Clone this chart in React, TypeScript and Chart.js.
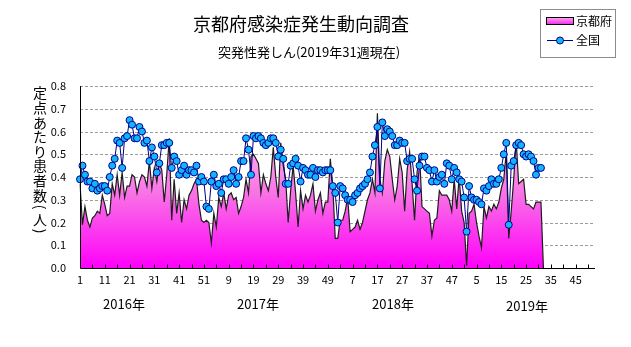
import React, { useEffect, useRef } from "react";
import { Chart, registerables } from "chart.js";

Chart.register(...registerables);

// ---- categories ----
const yearWeeks = [52, 52, 52, 52];
const yearLabels = ["2016年", "2017年", "2018年", "2019年"];
const yTickValues = [0.1, 0.2, 0.3, 0.4, 0.5, 0.6, 0.7, 0.8];

// ---- 京都府 (Kyoto) ----
const kyoto2016 = [
  0.37, 0.19, 0.27, 0.21, 0.18, 0.22, 0.23, 0.25, 0.24, 0.32,
  0.28, 0.23, 0.24, 0.37, 0.32, 0.41, 0.32, 0.42, 0.31, 0.36,
  0.36, 0.41, 0.40, 0.33, 0.38, 0.41, 0.40, 0.36, 0.47, 0.35,
  0.44, 0.38, 0.46, 0.43, 0.29, 0.41, 0.57, 0.21, 0.39, 0.24,
  0.33, 0.20, 0.30, 0.26, 0.32, 0.34, 0.37, 0.39, 0.28, 0.21,
  0.20, 0.21,
];
const kyoto2017 = [
  0.20, 0.11, 0.24, 0.18, 0.31, 0.27, 0.33, 0.26, 0.32, 0.33,
  0.30, 0.31, 0.24, 0.27, 0.31, 0.39, 0.33, 0.49, 0.50, 0.48,
  0.46, 0.33, 0.41, 0.37, 0.34, 0.40, 0.53, 0.40, 0.31, 0.55,
  0.45, 0.39, 0.20, 0.34, 0.45, 0.33, 0.18, 0.34, 0.26, 0.32,
  0.29, 0.32, 0.37, 0.25, 0.30, 0.33, 0.24, 0.29, 0.29, 0.48,
  0.36, 0.13,
];
const kyoto2018 = [
  0.13, 0.21, 0.21, 0.25, 0.31, 0.16, 0.17, 0.18, 0.21, 0.17,
  0.20, 0.25, 0.30, 0.33, 0.39, 0.33, 0.68, 0.39, 0.33, 0.47,
  0.52, 0.49, 0.39, 0.30, 0.36, 0.48, 0.42, 0.25, 0.43, 0.51,
  0.37, 0.21, 0.42, 0.50, 0.27, 0.26, 0.25, 0.24, 0.14, 0.21,
  0.22, 0.34, 0.32, 0.32, 0.32, 0.30, 0.25, 0.39, 0.26, 0.40,
  0.25, 0.20,
];
const kyoto2019 = [
  0.01, 0.24, 0.25, 0.28, 0.20, 0.14, 0.09, 0.27, 0.22, 0.27,
  0.25, 0.28, 0.26, 0.29, 0.35, 0.39, 0.51, 0.13, 0.25, 0.39,
  0.56, 0.37, 0.38, 0.39, 0.28, 0.28, 0.27, 0.26, 0.29, 0.29,
  0.29, 0,
];

// ---- 全国 (national) ----
const national2016 = [
  0.39, 0.45, 0.41, 0.38, 0.38, 0.35, 0.37, 0.34, 0.35, 0.36,
  0.36, 0.34, 0.40, 0.45, 0.48, 0.56, 0.55, 0.44, 0.57, 0.58,
  0.65, 0.63, 0.57, 0.57, 0.62, 0.60, 0.55, 0.56, 0.47, 0.53,
  0.49, 0.42, 0.46, 0.54, 0.54, 0.55, 0.55, 0.44, 0.49, 0.47,
  0.41, 0.43, 0.45, 0.41, 0.43, 0.43, 0.42, 0.45, 0.38, 0.40,
  0.38, 0.27,
];
const national2017 = [
  0.26, 0.38, 0.41, 0.36, 0.37, 0.33, 0.39, 0.39, 0.37, 0.40,
  0.43, 0.37, 0.40, 0.47, 0.47, 0.57, 0.52, 0.41, 0.58, 0.57,
  0.58, 0.57, 0.55, 0.54, 0.55, 0.57, 0.57, 0.55, 0.49, 0.52,
  0.48, 0.37, 0.37, 0.45, 0.46, 0.48, 0.45, 0.38, 0.44, 0.43,
  0.41, 0.41, 0.44, 0.40, 0.43, 0.43, 0.42, 0.43, 0.43, 0.43,
  0.36, 0.33,
];
const national2018 = [
  0.20, 0.36, 0.35, 0.32, 0.30, 0.30, 0.29, 0.32, 0.33, 0.35,
  0.36, 0.37, 0.39, 0.42, 0.49, 0.54, 0.62, 0.35, 0.64, 0.58,
  0.61, 0.60, 0.58, 0.54, 0.54, 0.56, 0.55, 0.55, 0.47, 0.48,
  0.48, 0.39, 0.34, 0.45, 0.49, 0.49, 0.44, 0.43, 0.38, 0.43,
  0.38, 0.40, 0.41, 0.37, 0.46, 0.45, 0.39, 0.44, 0.42, 0.39,
  0.38, 0.31,
];
const national2019 = [
  0.16, 0.36, 0.31, 0.30, 0.30, 0.29, 0.28, 0.35, 0.34, 0.36,
  0.39, 0.37, 0.37, 0.39, 0.44, 0.50, 0.55, 0.19, 0.45, 0.47,
  0.54, 0.55, 0.54, 0.50, 0.49, 0.50, 0.49, 0.47, 0.41, 0.44,
  0.44,
];

const TITLE = "京都府感染症発生動向調査";
const SUBTITLE = "突発性発しん(2019年31週現在)";
const Y_TITLE = "定点あたり患者数(人)";
const LEGEND_KYOTO = "京都府";
const LEGEND_NATIONAL = "全国";

const FONT = "'Noto Sans CJK JP', 'Noto Sans', sans-serif";

export default function App() {
  const ref = useRef<HTMLCanvasElement>(null);

  useEffect(() => {
    document.body.style.margin = "0";
    const canvas = ref.current;
    if (!canvas) return;

    const labels: string[] = [];
    yearWeeks.forEach((n) => {
      for (let w = 1; w <= n; w++) labels.push(String(w));
    });
    const pad = (arr: number[]) =>
      (arr as (number | null)[]).concat(new Array(labels.length - arr.length).fill(null));
    const kyoto = pad([...kyoto2016, ...kyoto2017, ...kyoto2018, ...kyoto2019]);
    const national = pad([...national2016, ...national2017, ...national2018, ...national2019]);

    const decor = {
      id: "decor",
      beforeDatasetsDraw(chart: any) {
        const { ctx, chartArea: a, scales } = chart;
        const y = scales.y;
        ctx.save();
        ctx.strokeStyle = "#9c9c9c";
        ctx.lineWidth = 1;
        ctx.setLineDash([3, 2]);
        for (const v of yTickValues) {
          const py = Math.round(y.getPixelForValue(v)) + 0.5;
          ctx.beginPath();
          ctx.moveTo(a.left, py);
          ctx.lineTo(a.right + 2, py);
          ctx.stroke();
        }
        ctx.restore();
      },
      afterDatasetsDraw(chart: any) {
        const { ctx, chartArea: a, scales } = chart;
        const x = scales.x;
        ctx.save();
        ctx.strokeStyle = "#000";
        ctx.lineWidth = 1;
        const bx = Math.round(a.left) + 0.5;
        const by = Math.round(a.bottom) + 0.5;
        ctx.beginPath();
        ctx.moveTo(bx, Math.round(a.top));
        ctx.lineTo(bx, by);
        ctx.lineTo(Math.round(a.right) + 2, by);
        ctx.stroke();
        for (let i = 5; i < labels.length; i += 5) {
          const px = Math.round(x.getPixelForValue(i)) + 0.5;
          ctx.beginPath();
          ctx.moveTo(px, by);
          ctx.lineTo(px, by - 4);
          ctx.stroke();
        }
        ctx.restore();
      },
      afterDraw(chart: any) {
        const { ctx } = chart;
        ctx.save();
        ctx.fillStyle = "#000";
        ctx.textAlign = "center";
        ctx.textBaseline = "middle";
        // titles
        ctx.font = `18px ${FONT}`;
        ctx.fillText(TITLE, 301, 24);
        ctx.font = `13px ${FONT}`;
        ctx.fillText(SUBTITLE, 309, 52);
        // year labels
        ctx.font = `13px ${FONT}`;
        const yearX = [124, 258, 393, 527];
        const yearY = [304, 304, 304, 306];
        yearLabels.forEach((t, k) => ctx.fillText(t, yearX[k], yearY[k]));
        // vertical y-axis title
        ctx.font = `14px ${FONT}`;
        let cy = 93;
        const chars = Array.from(Y_TITLE);
        chars.forEach((ch, k) => {
          const isParen = ch === "(" || ch === ")";
          const prevParen = k > 0 && (chars[k - 1] === "(" || chars[k - 1] === ")");
          if (k > 0) cy += isParen || prevParen ? 12 : 14.6;
          if (isParen) {
            ctx.save();
            ctx.translate(40, cy);
            ctx.rotate(Math.PI / 2);
            ctx.fillText(ch, 0, 0);
            ctx.restore();
          } else {
            ctx.fillText(ch, 40, cy);
          }
        });
        // legend
        ctx.fillStyle = "#fff";
        ctx.fillRect(540, 9, 76, 49);
        ctx.strokeStyle = "#8c8c8c";
        ctx.lineWidth = 1;
        ctx.strokeRect(540.5, 9.5, 75, 48);
        const g = ctx.createLinearGradient(0, 18, 0, 25);
        g.addColorStop(0, "#ff9cf0");
        g.addColorStop(1, "#f020e8");
        ctx.fillStyle = g;
        ctx.fillRect(547, 18, 26, 6);
        ctx.strokeStyle = "#000";
        ctx.strokeRect(546.5, 17.5, 27, 7);
        ctx.strokeStyle = "#000080";
        ctx.beginPath();
        ctx.moveTo(547, 40.5);
        ctx.lineTo(573, 40.5);
        ctx.stroke();
        ctx.beginPath();
        ctx.arc(560, 40.5, 3.5, 0, Math.PI * 2);
        ctx.fillStyle = "#14b4fa";
        ctx.fill();
        ctx.stroke();
        ctx.fillStyle = "#000";
        ctx.textAlign = "left";
        ctx.font = `12px ${FONT}`;
        ctx.fillText(LEGEND_KYOTO, 576, 21);
        ctx.fillText(LEGEND_NATIONAL, 576, 40);
        ctx.restore();
      },
    };

    const chart = new Chart(canvas, {
      type: "line",
      data: {
        labels,
        datasets: [
          {
            label: LEGEND_KYOTO,
            data: kyoto,
            order: 2,
            borderColor: "#1c1c1c",
            borderWidth: 1.2,
            pointRadius: 0,
            tension: 0,
            fill: "origin",
            spanGaps: false,
            backgroundColor: (c: any) => {
              const area = c.chart.chartArea;
              if (!area) return "#ff40f0";
              const gr = c.chart.ctx.createLinearGradient(0, area.top, 0, area.bottom);
              gr.addColorStop(0, "#ffe2f8");
              gr.addColorStop(0.3, "#fbb4ee");
              gr.addColorStop(0.6, "#f970e6");
              gr.addColorStop(1, "#ff00fa");
              return gr;
            },
          },
          {
            label: LEGEND_NATIONAL,
            data: national,
            order: 1,
            borderColor: "#000080",
            borderWidth: 1,
            pointRadius: 3.5,
            pointBackgroundColor: "#14b4fa",
            pointBorderColor: "#000090",
            pointBorderWidth: 1,
            tension: 0,
            fill: false,
          },
        ],
      },
      options: {
        responsive: false,
        animation: false,
        devicePixelRatio: 1,
        layout: { padding: { top: 86, right: 38, left: 0, bottom: 0 } },
        plugins: {
          legend: { display: false },
          title: { display: false },
          tooltip: { enabled: false },
        },
        scales: {
          x: {
            type: "category",
            offset: false,
            grid: { display: false, drawTicks: false },
            border: { display: false },
            ticks: {
              autoSkip: false,
              maxRotation: 0,
              minRotation: 0,
              padding: 5,
              color: "#000",
              font: { family: FONT, size: 11 },
              callback: (_v: any, i: number) => (i % 10 === 0 ? labels[i] : ""),
            },
            afterFit: (s: any) => {
              s.height = 79;
            },
          },
          y: {
            min: 0,
            max: 0.8,
            grid: { display: false, drawTicks: false },
            border: { display: false },
            ticks: {
              stepSize: 0.1,
              padding: 14,
              color: "#000",
              font: { family: FONT, size: 11 },
              callback: (v: any) => Number(v).toFixed(1),
            },
            afterFit: (s: any) => {
              s.width = 80;
            },
          },
        },
      },
      plugins: [decor],
    });

    return () => chart.destroy();
  }, []);

  return (
    <div style={{ width: 631, height: 347 }}>
      <canvas ref={ref} width={631} height={347} />
    </div>
  );
}
